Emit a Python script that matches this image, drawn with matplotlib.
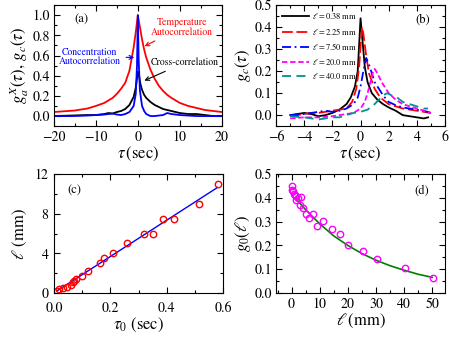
import numpy as np
import matplotlib
matplotlib.use('Agg')
import matplotlib.pyplot as plt
from matplotlib.ticker import MultipleLocator

plt.rcParams['font.family'] = ['STIXGeneral', 'DejaVu Serif']
plt.rcParams['mathtext.fontset'] = 'stix'
plt.rcParams['xtick.direction'] = 'in'
plt.rcParams['ytick.direction'] = 'in'
plt.rcParams['xtick.top'] = True
plt.rcParams['ytick.right'] = True
plt.rcParams['xtick.labelsize'] = 10
plt.rcParams['ytick.labelsize'] = 10

# ---- panel (a) data ----
tau_temp = [-20, -15, -12, -10, -8, -6, -5, -4, -3, -2, -1, -0.5, 0,
            0.5, 1, 1.5, 2, 3, 4, 5, 6, 7, 8, 10, 12, 14, 16, 18, 20]
g_temp = [0.04, 0.055, 0.075, 0.10, 0.13, 0.18, 0.22, 0.27, 0.33, 0.45, 0.68, 0.83, 1.0,
          0.88, 0.76, 0.66, 0.58, 0.46, 0.37, 0.30, 0.25, 0.21, 0.18, 0.13, 0.10, 0.08, 0.06, 0.05, 0.04]

tau_conc = [-20, -16, -12, -10, -8, -7, -6, -5, -4, -3, -2, -1, -0.5, -0.2, 0,
            0.2, 0.5, 1, 1.5, 2, 3, 4, 5, 6, 7, 8, 10, 12, 14, 16, 18, 20]
g_conc = [0.0, 0.0, 0.005, 0.01, 0.015, 0.02, 0.025, 0.015, 0.01, 0.02, 0.04, 0.10, 0.22, 0.5, 1.0,
          0.55, 0.25, 0.10, 0.05, 0.02, 0.0, 0.0, 0.005, 0.01, 0.03, 0.02, 0.01, 0.005, 0.0, 0.0, 0.0, 0.0]

tau_cross = [-20, -16, -12, -10, -8, -7, -6, -5, -4, -3, -2, -1, -0.5, 0,
             0.3, 0.6, 1, 1.5, 2, 3, 4, 5, 6, 7, 8, 9, 10, 12, 14, 16, 18, 20]
g_cross = [0.0, 0.005, 0.01, 0.01, 0.02, 0.03, 0.025, 0.04, 0.05, 0.07, 0.11, 0.19, 0.28, 0.44,
           0.40, 0.32, 0.26, 0.21, 0.18, 0.14, 0.11, 0.09, 0.07, 0.06, 0.05, 0.04, 0.03, 0.02, 0.02, 0.01, 0.0, 0.0]

# ---- panel (b) data ----
tau_b1 = [-5, -4.5, -4, -3.5, -3, -2.5, -2, -1.5, -1, -0.7, -0.4, -0.2, 0, 0.15, 0.3, 0.5, 0.8,
          1.2, 1.6, 2, 2.5, 3, 3.5, 4, 4.5, 4.8]
g_b1 = [0.0, 0.005, 0.01, 0.005, -0.005, 0.0, 0.01, 0.025, 0.05, 0.08, 0.13, 0.2, 0.44, 0.33, 0.22,
        0.15, 0.10, 0.07, 0.05, 0.035, 0.02, 0.0, -0.005, -0.01, -0.015, -0.01]

tau_b2 = [-5, -4.5, -4, -3.5, -3, -2.5, -2, -1.5, -1, -0.6, -0.3, -0.1, 0.1, 0.2, 0.4, 0.6, 1,
          1.4, 2, 2.5, 3, 3.5, 4, 4.5, 5]
g_b2 = [-0.005, 0.0, 0.005, 0.01, 0.01, 0.015, 0.02, 0.025, 0.03, 0.06, 0.12, 0.22, 0.40, 0.37,
        0.27, 0.19, 0.12, 0.08, 0.05, 0.04, 0.03, 0.025, 0.02, 0.015, 0.01]

tau_b3 = [-5, -4, -3, -2.5, -2, -1.5, -1, -0.5, -0.2, 0, 0.2, 0.4, 0.6, 0.8, 1, 1.3, 1.6, 2,
          2.5, 3, 3.5, 4, 4.5, 5]
g_b3 = [0.0, 0.005, 0.015, 0.02, 0.015, 0.02, 0.03, 0.05, 0.08, 0.13, 0.2, 0.26, 0.23, 0.19,
        0.15, 0.12, 0.09, 0.06, 0.045, 0.035, 0.03, 0.025, 0.02, 0.01]

tau_b4 = [-5, -4, -3, -2, -1.5, -1, -0.5, 0, 0.3, 0.5, 0.7, 0.9, 1.0, 1.2, 1.5, 2, 2.5, 3, 3.5,
          4, 4.5, 5]
g_b4 = [-0.015, -0.01, -0.01, -0.005, 0.0, 0.005, 0.01, 0.03, 0.06, 0.1, 0.15, 0.2, 0.21, 0.19,
        0.15, 0.1, 0.07, 0.05, 0.04, 0.03, 0.02, 0.01]

tau_b5 = [-5, -4, -3, -2.5, -2, -1.5, -1, -0.5, 0, 0.5, 1, 1.3, 1.6, 1.9, 2.2, 2.6, 3, 3.5, 4,
          4.5, 4.8]
g_b5 = [-0.005, -0.01, -0.02, -0.015, -0.01, -0.01, 0.0, 0.01, 0.015, 0.025, 0.05, 0.07, 0.09,
        0.10, 0.09, 0.08, 0.06, 0.05, 0.04, 0.03, 0.03]

b_labels = [r'$\ell = 0.38$ mm', r'$\ell = 2.25$ mm', r'$\ell = 7.50$ mm',
            r'$\ell = 20.0$ mm', r'$\ell = 40.0$ mm']

# ---- panel (c) data ----
tau0 = [0.012, 0.019, 0.033, 0.045, 0.059, 0.066, 0.071, 0.08, 0.10, 0.12, 0.163, 0.179,
        0.21, 0.26, 0.32, 0.351, 0.387, 0.426, 0.516, 0.58]
ell_c = [0.23, 0.37, 0.5, 0.64, 0.84, 1.1, 1.2, 1.38, 1.7, 2.25, 3.0, 3.5,
         4.0, 5.0, 6.0, 6.0, 7.5, 7.5, 9.0, 11.0]
fit_tau = [0.01, 0.58]
fit_ell = [0.2, 10.65]

# ---- panel (d) data ----
ell_d = [0.0, 0.0, 0.5, 0.7, 1.2, 1.7, 2.2, 3.4, 1.7, 3.0, 3.9, 5.1, 7.5, 6.1, 8.9, 11.1,
         14.2, 17.2, 20.2, 25.2, 30.3, 40.3, 50.3]
g0 = [0.449, 0.432, 0.43, 0.417, 0.414, 0.41, 0.40, 0.403, 0.39, 0.37, 0.356, 0.333, 0.333,
      0.314, 0.281, 0.303, 0.27, 0.25, 0.204, 0.175, 0.143, 0.104, 0.0625]
fit_l = [1.5, 2, 5, 10, 15, 20, 25, 30, 35, 40, 45, 50]
fit_g = [0.395, 0.390, 0.350, 0.291, 0.240, 0.200, 0.166, 0.138, 0.115, 0.096, 0.079, 0.066]

fig = plt.figure(figsize=(4.49, 3.40), dpi=100)
axa = fig.add_axes([0.120, 0.629, 0.374, 0.356])
axb = fig.add_axes([0.615, 0.629, 0.376, 0.356])
axc = fig.add_axes([0.120, 0.138, 0.377, 0.350])
axd = fig.add_axes([0.615, 0.138, 0.376, 0.350])

# (a)
axa.plot(tau_temp, g_temp, color='#ff0000', lw=1.3)
axa.plot(tau_cross, g_cross, color='black', lw=1.3)
axa.plot(tau_conc, g_conc, color='#0000ff', lw=1.3)
axa.set_xlim(-20, 20)
axa.set_ylim(-0.1, 1.1)
axa.xaxis.set_major_locator(MultipleLocator(10))
axa.xaxis.set_minor_locator(MultipleLocator(5))
axa.yaxis.set_major_locator(MultipleLocator(0.2))
axa.yaxis.set_minor_locator(MultipleLocator(0.1))
axa.yaxis.set_major_formatter(matplotlib.ticker.FormatStrFormatter('%.1f'))
axa.set_xlabel(r'$\tau\,$(sec)', fontsize=12, labelpad=1)
axa.set_ylabel(r'$g_a^X(\tau),\, g_c(\tau)$', fontsize=12, labelpad=1)
axa.text(0.12, 0.88, '(a)', transform=axa.transAxes, fontsize=9, va='center')
axa.annotate('Temperature\nAutocorrelation', xy=(1.0, 0.68), xytext=(10.5, 0.88),
             color='#ff0000', fontsize=7, ha='center', va='center', linespacing=1.0,
             arrowprops=dict(arrowstyle='->', color='#ff0000', lw=0.8))
axa.annotate('Concentration\nAutocorrelation', xy=(-0.2, 0.58), xytext=(-11.5, 0.59),
             color='#0000ff', fontsize=7, ha='center', va='center', linespacing=1.0,
             arrowprops=dict(arrowstyle='->', color='#0000ff', lw=0.8))
axa.annotate('Cross-correlation', xy=(0.95, 0.34), xytext=(11.2, 0.53),
             color='black', fontsize=7, ha='center', va='center',
             arrowprops=dict(arrowstyle='->', color='black', lw=0.8))

# (b)
axb.plot(tau_b1, g_b1, color='black', lw=1.3, label=b_labels[0])
axb.plot(tau_b2, g_b2, color='#ff0000', lw=1.3, dashes=(6, 2), label=b_labels[1])
axb.plot(tau_b3, g_b3, color='#0000ff', lw=1.3, dashes=(5, 2, 1, 2), label=b_labels[2])
axb.plot(tau_b4, g_b4, color='#ff00ff', lw=1.3, dashes=(3, 1.5), label=b_labels[3])
axb.plot(tau_b5, g_b5, color='#009090', lw=1.3, dashes=(5, 3), label=b_labels[4])
axb.set_xlim(-6, 6)
axb.set_ylim(-0.05, 0.5)
axb.xaxis.set_major_locator(MultipleLocator(2))
axb.xaxis.set_minor_locator(MultipleLocator(1))
axb.yaxis.set_major_locator(MultipleLocator(0.1))
axb.yaxis.set_minor_locator(MultipleLocator(0.05))
axb.yaxis.set_major_formatter(matplotlib.ticker.FormatStrFormatter('%.1f'))
axb.set_xlabel(r'$\tau\,$(sec)', fontsize=12, labelpad=1)
axb.set_ylabel(r'$g_c(\tau)$', fontsize=12, labelpad=1)
axb.text(0.87, 0.88, '(b)', transform=axb.transAxes, fontsize=9, ha='center', va='center')
axb.legend(loc='upper left', fontsize=6, frameon=False, handlelength=3.2,
           borderaxespad=0.3, labelspacing=0.55, handletextpad=0.4)

# (c)
axc.plot(fit_tau, fit_ell, color='#0000ff', lw=1.0)
axc.plot(tau0, ell_c, 'o', mfc='none', mec='#ff0000', ms=4.6, mew=1.0)
axc.set_xlim(0, 0.6)
axc.set_ylim(0, 12)
axc.xaxis.set_major_locator(MultipleLocator(0.2))
axc.xaxis.set_minor_locator(MultipleLocator(0.1))
axc.yaxis.set_major_locator(MultipleLocator(4))
axc.yaxis.set_minor_locator(MultipleLocator(2))
axc.xaxis.set_major_formatter(matplotlib.ticker.FormatStrFormatter('%.1f'))
axc.set_xlabel(r'$\tau_0$ (sec)', fontsize=12, labelpad=1)
axc.set_ylabel(r'$\ell$ (mm)', fontsize=12, labelpad=4)
axc.text(0.08, 0.86, '(c)', transform=axc.transAxes, fontsize=9, va='center')

# (d)
axd.plot(fit_l, fit_g, color='#007f00', lw=1.2)
axd.plot(ell_d, g0, 'o', mfc='none', mec='#ff00ff', ms=4.6, mew=1.0)
axd.set_xlim(-5.5, 54.5)
axd.set_ylim(0, 0.5)
axd.xaxis.set_major_locator(MultipleLocator(10))
axd.xaxis.set_minor_locator(MultipleLocator(5))
axd.yaxis.set_major_locator(MultipleLocator(0.1))
axd.yaxis.set_minor_locator(MultipleLocator(0.05))
axd.yaxis.set_major_formatter(matplotlib.ticker.FormatStrFormatter('%.1f'))
axd.set_xlabel(r'$\ell\,$(mm)', fontsize=12, labelpad=1)
axd.set_ylabel(r'$g_0(\ell)$', fontsize=12, labelpad=1)
axd.text(0.86, 0.86, '(d)', transform=axd.transAxes, fontsize=9, ha='center', va='center')

for ax in (axa, axb, axc, axd):
    ax.tick_params(which='major', length=4, width=0.8, pad=3)
    ax.tick_params(which='minor', length=2, width=0.8)
    for s in ax.spines.values():
        s.set_linewidth(0.8)
axc.tick_params(axis='x', which='major', pad=6)
axc.tick_params(axis='y', which='major', pad=4)

fig.savefig('out.png', dpi=100)
